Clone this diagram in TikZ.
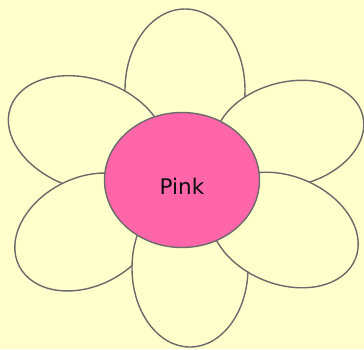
\documentclass[tikz,border=0pt]{standalone}
\usepackage{fontspec}
\setmainfont{DejaVu Sans}
\usetikzlibrary{shapes.geometric}
\definecolor{paper}{HTML}{FFFFCC}
\definecolor{rim}{HTML}{6A6A6A}
\definecolor{hotpink}{HTML}{FF66AA}

\begin{document}
\begin{tikzpicture}[
  x=1pt, y=-1pt,
  petal/.style={ellipse, draw=rim, fill=paper, line width=1.4pt, inner sep=0pt},
  core/.style={ellipse, draw=rim, fill=hotpink, line width=1.4pt, inner sep=0pt,
    minimum width=155pt, minimum height=135pt}
]
  \fill[paper] (0,0) rectangle (364,349);
  \useasboundingbox (0,0) rectangle (364,349);

  % petals, back to front
  \node[petal, minimum width=120pt, minimum height=162pt] (top) at (185,90) {};
  \node[petal, minimum width=162pt, minimum height=110pt, rotate=-19] (upleft) at (87,134) {};
  \node[petal, minimum width=152pt, minimum height=104pt, rotate=14] (upright) at (289,134) {};
  \node[petal, minimum width=150pt, minimum height=108pt, rotate=27] (lowleft) at (86,232) {};
  \node[petal, minimum width=116pt, minimum height=158pt] (bottom) at (190,268) {};
  \node[petal, minimum width=154pt, minimum height=108pt, rotate=-22] (lowright) at (284,230) {};

  % centre
  \node[core] (heart) at (182,180) {};
  \node[font=\fontsize{21.5}{25}\selectfont, text=black!95] (name) at ([yshift=-6.5pt]heart.center) {Pink};
\end{tikzpicture}
\end{document}
